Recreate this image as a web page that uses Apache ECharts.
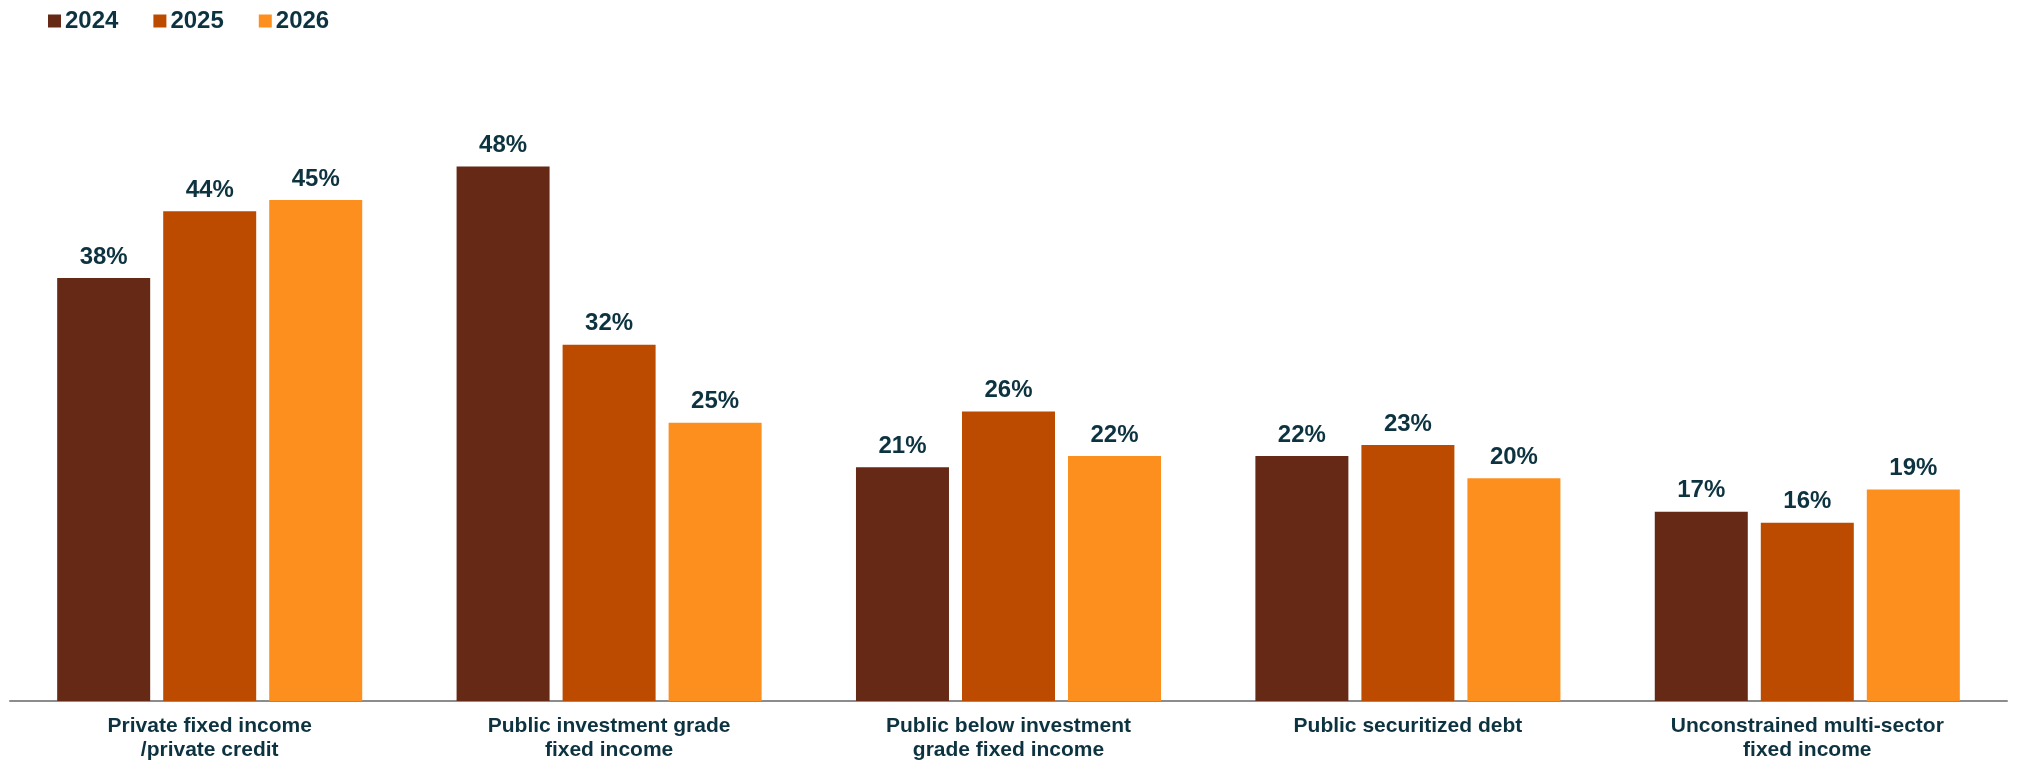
<!DOCTYPE html>
<html>
<head>
<meta charset="utf-8">
<script src="https://cdn.jsdelivr.net/npm/echarts@6/dist/echarts.min.js"></script>
<style>
  html, body { margin: 0; padding: 0; background: #fff; }
  #chart { width: 2017px; height: 762px; }
</style>
</head>
<body>
<div id="chart"></div>
<script>
// Fixed income allocation share by category and year
const categories = [
  'Private fixed income\n/private credit',
  'Public investment grade\nfixed income',
  'Public below investment\ngrade fixed income',
  'Public securitized debt',
  'Unconstrained multi-sector\nfixed income'
];
const years = ['2024', '2025', '2026'];
const values2024 = [38, 48, 21, 22, 17];
const values2025 = [44, 32, 26, 23, 16];
const values2026 = [45, 25, 22, 20, 19];
const colors = ['#652915', '#BC4B00', '#FC8F1E'];
const textColor = '#0d3340';

const chart = echarts.init(document.getElementById('chart'));

function barSeries(name, data, color) {
  return {
    name: name,
    type: 'bar',
    data: data,
    barWidth: 93,
    barGap: '14%',
    itemStyle: { color: color },
    label: {
      show: true,
      position: 'top',
      distance: 9,
      formatter: '{c}%',
      color: textColor,
      fontFamily: 'Liberation Sans, Arial, sans-serif',
      fontWeight: 'bold',
      fontSize: 24
    }
  };
}

chart.setOption({
  animation: false,
  legend: {
    data: years,
    left: 43,
    top: 4,
    icon: 'rect',
    itemWidth: 13,
    itemHeight: 13,
    itemGap: 35,
    itemStyle: { borderWidth: 0 },
    textStyle: {
      color: textColor,
      fontFamily: 'Liberation Sans, Arial, sans-serif',
      fontWeight: 'bold',
      fontSize: 24,
      padding: [0, 0, 0, -1]
    }
  },
  grid: { left: 10, right: 10, top: 33, bottom: 56, containLabel: false },
  xAxis: {
    type: 'category',
    data: categories,
    axisLine: { lineStyle: { color: '#8c8c8c', width: 2 } },
    axisTick: { show: false },
    axisLabel: {
      color: textColor,
      fontFamily: 'Liberation Sans, Arial, sans-serif',
      fontWeight: 'bold',
      fontSize: 21,
      lineHeight: 24,
      margin: 13
    }
  },
  yAxis: {
    type: 'value',
    min: 0,
    max: 60,
    show: false,
    splitLine: { show: false }
  },
  series: [
    barSeries(years[0], values2024, colors[0]),
    barSeries(years[1], values2025, colors[1]),
    barSeries(years[2], values2026, colors[2])
  ]
});
</script>
</body>
</html>
